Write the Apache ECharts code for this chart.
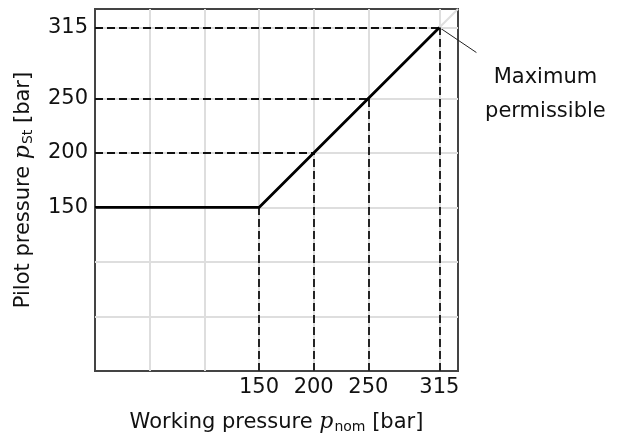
<!DOCTYPE html>
<html>
<head>
<meta charset="utf-8">
<script src="https://cdn.jsdelivr.net/npm/echarts@6/dist/echarts.min.js"></script>
<style>
  html, body { margin: 0; padding: 0; background: #fff; }
  #chart { width: 622px; height: 437px; }
</style>
</head>
<body>
<div id="chart"></div>
<script>
// characteristic curve: working pressure -> pilot pressure
const workPressure = [0, 150, 315];
const pilotPressure = [150, 150, 315];
// reference values marked with dashed lines / tick labels
const xTicks = [150, 200, 250, 315];
const yTicks = [150, 200, 250, 315];
const gridValues = [50, 100, 150, 200, 250, 315];
const maxPoint = [315, 315];

const font = 'DejaVu Sans';
const chart = echarts.init(document.getElementById('chart'));

const gridLines = [];
gridValues.forEach(v => {
  gridLines.push({ xAxis: v });
  gridLines.push({ yAxis: v });
});

// dashed guides from axes to the curve
const guides = [];
xTicks.forEach(v => {
  const y = v <= 150 ? 150 : v;
  guides.push([{ coord: [v, 0] }, { coord: [v, y] }]);
});
yTicks.filter(v => v > 150).forEach(v => {
  guides.push([{ coord: [0, v] }, { coord: [v, v] }]);
});

const nameRich = {
  p: { fontFamily: 'DejaVu Serif', fontStyle: 'italic', fontSize: 22, color: '#111' },
  s: { fontFamily: font, fontSize: 14, color: '#111', padding: [9, 0, 0, 1] }
};

const option = {
  animation: false,
  grid: {
    left: 95, right: 164, top: 9, bottom: 66, outerBoundsMode: 'none',
    show: true, borderColor: '#444', borderWidth: 2
  },
  xAxis: {
    type: 'value', min: 0, max: 332,
    name: 'Working pressure {p|p}{s|nom} [bar]',
    nameLocation: 'middle', nameGap: 40,
    nameTextStyle: { fontFamily: font, fontSize: 21, color: '#111', rich: nameRich },
    axisLine: { lineStyle: { color: '#444', width: 2 } },
    axisTick: { show: false },
    splitLine: { show: false },
    axisLabel: { customValues: xTicks, fontFamily: font, fontSize: 21, color: '#111', margin: 6 }
  },
  yAxis: {
    type: 'value', min: 0, max: 332,
    name: 'Pilot pressure {p|p}{s|St} [bar]',
    nameLocation: 'middle', nameGap: 60, nameRotate: 90,
    nameTextStyle: { fontFamily: font, fontSize: 21, color: '#111', rich: nameRich },
    axisLine: { lineStyle: { color: '#444', width: 2 } },
    axisTick: { show: false },
    splitLine: { show: false },
    axisLabel: { customValues: yTicks, fontFamily: font, fontSize: 21, color: '#111', margin: 7 }
  },
  series: [
    {
      type: 'line', data: [], silent: true, z: 1,
      markLine: {
        silent: true, symbol: 'none', label: { show: false }, z: 1,
        lineStyle: { color: '#dedede', width: 2, type: 'solid' },
        data: gridLines.concat([[{ coord: maxPoint }, { coord: [332, 332] }]])
      }
    },
    {
      type: 'line', data: [], silent: true, z: 2,
      markLine: {
        silent: true, symbol: 'none', label: { show: false }, z: 2,
        lineStyle: { color: '#111', width: 1.8, type: [8, 4] },
        data: guides
      }
    },
    {
      type: 'line', z: 10, symbol: 'none',
      data: workPressure.map((x, i) => [x, pilotPressure[i]]),
      lineStyle: { color: '#000', width: 2.8 }
    }
  ]
};
chart.setOption(option);

// annotation for the maximum permissible point
const p = chart.convertToPixel({ gridIndex: 0 }, maxPoint);
chart.setOption({
  graphic: [
    { type: 'line', shape: { x1: p[0], y1: p[1], x2: p[0] + 37, y2: p[1] + 25 }, style: { stroke: '#222', lineWidth: 1 } },
    { type: 'text', x: p[0] + 106, y: p[1] + 33, style: { text: 'Maximum\npermissible', fontFamily: font, fontSize: 21, fill: '#111', align: 'center', verticalAlign: 'top', lineHeight: 34 } }
  ]
});
</script>
</body>
</html>
